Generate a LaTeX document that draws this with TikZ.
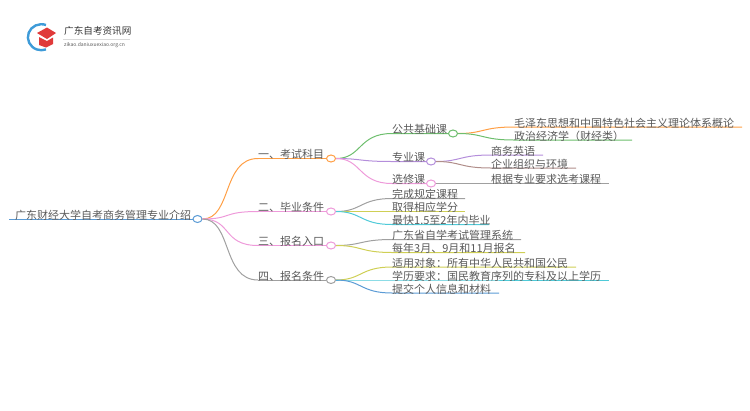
\documentclass[tikz,border=0pt]{standalone}
\usepackage{fontspec}
\setmainfont{Noto Sans CJK SC}
\usetikzlibrary{shapes.geometric}
\definecolor{cblue}{HTML}{5B9BD5}
\definecolor{corange}{HTML}{FF9F45}
\definecolor{cpink}{HTML}{EE9ADA}
\definecolor{cgray}{HTML}{A0A0A0}
\definecolor{cgreen}{HTML}{6DBE6D}
\definecolor{cpurple}{HTML}{B48EDB}
\definecolor{cbrown}{HTML}{B08E8A}
\definecolor{cyellow}{HTML}{CFCF55}
\definecolor{ccyan}{HTML}{4FCAD8}
\definecolor{ctext}{HTML}{5A5A5A}
\definecolor{clogo}{HTML}{E03A3A}
\definecolor{cring}{HTML}{3E9BD8}
\tikzset{
  every node/.style={text=ctext,font=\fontsize{11pt}{12pt}\selectfont,inner sep=0pt},
  hub/.style={ellipse,draw=#1,fill=white,line width=1pt,minimum width=9pt,minimum height=7pt},
  branch/.style={#1,line width=1pt},
  lab/.style={anchor=south west,yshift=-1.4pt},
}
\begin{document}
\begin{tikzpicture}[x=1pt,y=-1pt]
\useasboundingbox (0,0) rectangle (750,410);
% logo
\node[anchor=west,font=\fontsize{9.6pt}{10pt}\selectfont,text=black!80] (logotitle) at (64,31) {广东自考资讯网};
\node[anchor=west,font=\fontsize{5pt}{6pt}\selectfont] (logourl) at (64,45.5) {zikao.daniuxuexiao.org.cn};
\coordinate (rulea) at (63,39);
\coordinate (ruleb) at (130,39);
\draw[black!15,line width=.4pt] (rulea) -- (ruleb);
\draw[cring,line width=2.4pt] (46,25) arc (-70:-290:13.5 and 13);
\fill[clogo] (37,33) -- (47,27.5) -- (56,33) -- (47,39) -- cycle;
\fill[clogo] (39,37) -- (47,41) -- (53,37.5) -- (53,44) -- (46,47.5) -- (39,45) -- cycle;
% hubs
\node[hub=cblue] (root) at (197.5,219) {};
\node[hub=corange] (n1) at (331,158.5) {};
\node[hub=cpink] (n2) at (331,211.5) {};
\node[hub=cpink] (n3) at (331,245.5) {};
\node[hub=cgray] (n4) at (331,280) {};
\node[hub=cgreen] (a1) at (453,133.5) {};
\node[hub=cpurple] (a2) at (431,161.5) {};
\node[hub=cpink] (a3) at (431,183.5) {};
% main branches
\coordinate (s0) at (9,219);
\coordinate (e1) at (258,158.5);
\coordinate (e2) at (258,211.5);
\coordinate (e3) at (258,245.5);
\coordinate (e4) at (258,280);
\draw[branch=cblue] (s0) -- (root);
\node[lab] (rootlabel) at (15,219) {广东财经大学自考商务管理专业介绍};
\foreach \target/\col in {e1/corange,e2/cpink,e3/cpink,e4/cgray}
  \draw[branch=\col] (root) .. controls (232,219) and (222,0 |- \target) .. (\target);
\draw[branch=corange] (e1) -- (n1);
\draw[branch=cpink] (e2) -- (n2);
\draw[branch=cpink] (e3) -- (n3);
\draw[branch=cgray] (e4) -- (n4);
\node[lab] (l1) at (258,158.5) {一、考试科目};
\node[lab] (l2) at (258,211.5) {二、毕业条件};
\node[lab] (l3) at (258,245.5) {三、报名入口};
\node[lab] (l4) at (258,280) {四、报名条件};
% first branch
\foreach \y/\target/\col/\txt/\nm in {
  133.5/a1/cgreen/公共基础课/t1,
  161.5/a2/cpurple/专业课/t2,
  183.5/a3/cpink/选修课/t3}{
  \coordinate (c\nm) at (392,\y);
  \draw[branch=\col] (n1) .. controls (362,158.5) and (358,\y) .. (c\nm) -- (\target);
  \node[lab] (\nm) at (392,\y) {\txt};
}
% leaves
\foreach \from/\y/\sx/\ex/\col/\txt/\nm in {
  a1/127/514/742/corange/毛泽东思想和中国特色社会主义理论体系概论/q1,
  a1/140/514/632/cgreen/政治经济学（财经类）/q2,
  a2/155/491/543/cpurple/商务英语/q3,
  a2/168/491/576/cbrown/企业组织与环境/q4,
  a3/183.5/491/609/cgray/根据专业要求选考课程/q5,
  n2/198.5/392/465/cgray/完成规定课程/p1,
  n2/211.5/392/465/cyellow/取得相应学分/p2,
  n2/224.5/392/489/ccyan/最快1.5至2年内毕业/p3,
  n3/239.5/392/521/cgray/广东省自学考试管理系统/p4,
  n3/252.5/392/525/cyellow/每年3月、9月和11月报名/p5,
  n4/267/392/576/cyellow/适用对象：所有中华人民共和国公民/p6,
  n4/280/392/609/ccyan/学历要求：国民教育序列的专科及以上学历/p7,
  n4/293/392/499/cblue/提交个人信息和材料/p8}{
  \coordinate (\nm s) at (\sx,\y);
  \coordinate (\nm e) at (\ex,\y);
  \draw[branch=\col] (\from) .. controls (\sx-30,0 |- \from) and (\sx-32,\y) .. (\nm s) -- (\nm e);
  \node[lab] (\nm) at (\sx,\y) {\txt};
}
\end{tikzpicture}
\end{document}
